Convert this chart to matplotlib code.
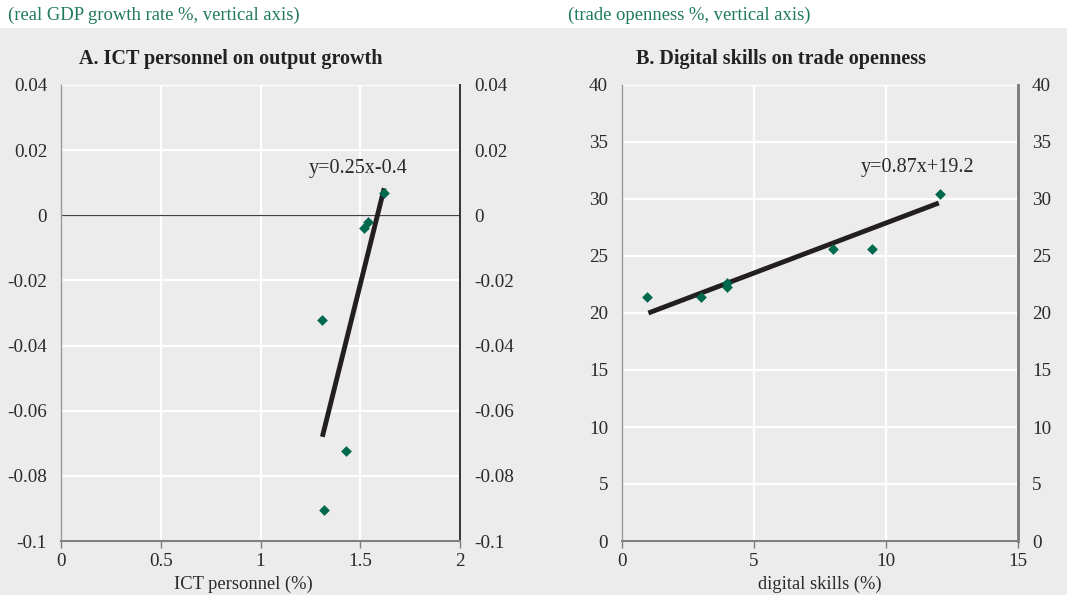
import matplotlib.pyplot as plt
from matplotlib.patches import Rectangle

plt.rcParams['font.family'] = ['Liberation Serif', 'DejaVu Serif']

# Panel A: ICT personnel (%) vs real GDP growth rate
ict_x = [1.31, 1.43, 1.32, 1.52, 1.54, 1.62]
gdp_y = [-0.032, -0.0725, -0.0905, -0.0038, -0.0022, 0.0068]
fit_a_x = [1.31, 1.62]
fit_a_y = [-0.068, 0.0083]
eq_a = 'y=0.25x-0.4'

# Panel B: digital skills (%) vs trade openness
skills_x = [0.96, 2.98, 3.98, 3.98, 8.0, 9.46, 12.05]
trade_y = [21.4, 21.4, 22.65, 22.3, 25.6, 25.6, 30.4]
fit_b_x = [1.0, 12.0]
fit_b_y = [20.0, 29.65]
eq_b = 'y=0.87x+19.2'

a_yticks = [0.04, 0.02, 0, -0.02, -0.04, -0.06, -0.08, -0.1]
a_ylabels = ['0.04', '0.02', '0', '-0.02', '-0.04', '-0.06', '-0.08', '-0.1']
a_xticks = [0, 0.5, 1, 1.5, 2]
a_xlabels = ['0', '0.5', '1', '1.5', '2']
b_yticks = [0, 5, 10, 15, 20, 25, 30, 35, 40]
b_xticks = [0, 5, 10, 15]

bg = '#ececec'
green = '#00684c'
sub_green = '#1f7a5c'
txt = '#2a2a2a'

fig = plt.figure(figsize=(10.67, 5.95), dpi=100)
fig.patches.append(Rectangle((0, 0), 1, 1 - 28 / 595, transform=fig.transFigure,
                             facecolor=bg, edgecolor='none', zorder=-10))

axA = fig.add_axes([61 / 1067, 1 - 541 / 595, 399 / 1067, 456 / 595])
axB = fig.add_axes([622 / 1067, 1 - 541 / 595, 396 / 1067, 456 / 595])


def style(ax, right_color, right_lw):
    ax.set_facecolor(bg)
    ax.set_axisbelow(True)
    ax.grid(True, color='white', lw=1.6)
    ax.spines['top'].set_visible(False)
    ax.spines['left'].set_color('#9a9a9a')
    ax.spines['left'].set_linewidth(1.0)
    ax.spines['right'].set_color(right_color)
    ax.spines['right'].set_linewidth(right_lw)
    ax.spines['bottom'].set_color('#808080')
    ax.spines['bottom'].set_linewidth(1.5)
    ax.tick_params(axis='y', length=0, labelleft=True, labelright=True,
                   labelsize=13.8, colors=txt, pad=10)
    ax.tick_params(axis='x', length=5, width=1, color='#808080', labelsize=13.8,
                   labelcolor=txt, pad=4)


# Panel A
style(axA, '#333333', 1.4)
axA.set_xlim(0, 2)
axA.set_ylim(-0.1, 0.04)
axA.set_xticks(a_xticks, a_xlabels)
axA.set_yticks(a_yticks, a_ylabels)
axA.axhline(0, color='#444444', lw=0.9)
axA.plot(fit_a_x, fit_a_y, color='#231f20', lw=3.5, solid_capstyle='butt', zorder=3)
axA.scatter(ict_x, gdp_y, marker='D', s=30, color=green, zorder=4, linewidths=0)
axA.text(1.49, 0.0143, eq_a, ha='center', va='center', fontsize=14.5, color=txt)
axA.set_xlabel('ICT personnel (%)', fontsize=13.3, color=txt)
axA.xaxis.set_label_coords(0.456, -0.075)

# Panel B
style(axB, '#777777', 2.0)
axB.set_xlim(0, 15)
axB.set_ylim(0, 40)
axB.set_xticks(b_xticks)
axB.set_yticks(b_yticks)
axB.plot(fit_b_x, fit_b_y, color='#231f20', lw=3.5, solid_capstyle='butt', zorder=3)
axB.scatter(skills_x, trade_y, marker='D', s=30, color=green, zorder=4, linewidths=0)
axB.text(11.2, 32.8, eq_b, ha='center', va='center', fontsize=14.5, color=txt)
axB.set_xlabel('digital skills (%)', fontsize=13.3, color=txt)
axB.xaxis.set_label_coords(0.499, -0.075)

# titles and units
fig.text(231 / 1067, 1 - 59 / 595, 'A. ICT personnel on output growth', ha='center',
         va='center', fontsize=14.5, fontweight='bold', color='#222222')
fig.text(781 / 1067, 1 - 59 / 595, 'B. Digital skills on trade openness', ha='center',
         va='center', fontsize=14.5, fontweight='bold', color='#222222')
fig.text(8 / 1067, 1 - 15 / 595, '(real GDP growth rate %, vertical axis)', ha='left',
         va='center', fontsize=13.4, color=sub_green)
fig.text(568 / 1067, 1 - 15 / 595, '(trade openness %, vertical axis)', ha='left',
         va='center', fontsize=13.4, color=sub_green)

fig.savefig('out.png', dpi=100)
